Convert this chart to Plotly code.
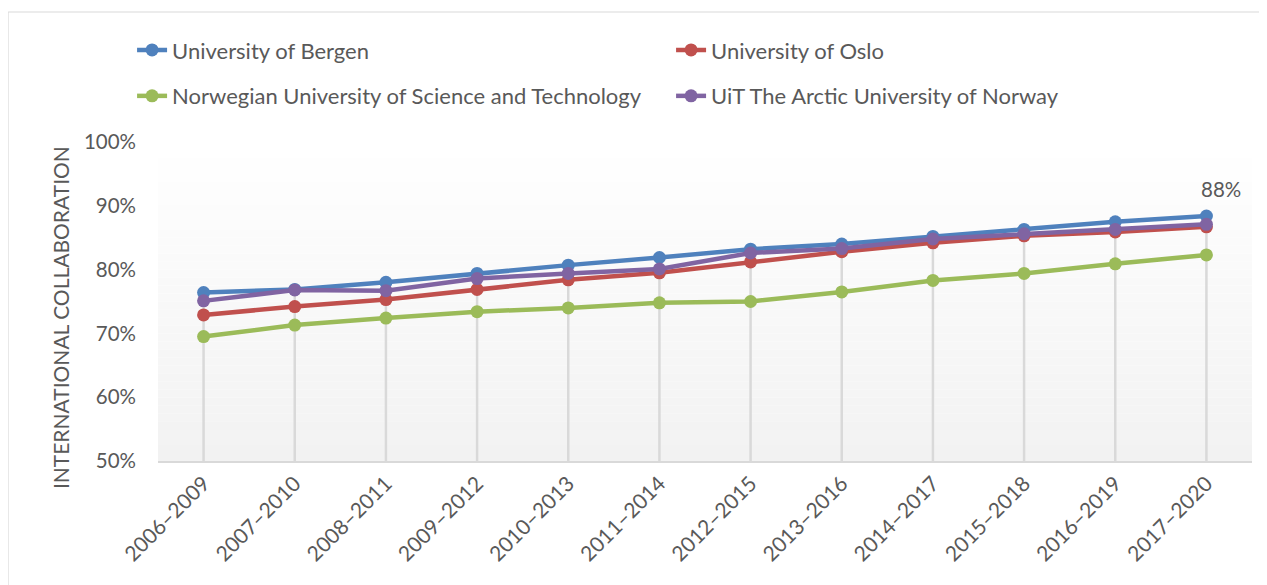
import plotly.graph_objects as go

categories = ["2006–2009", "2007–2010", "2008–2011", "2009–2012", "2010–2013", "2011–2014",
              "2012–2015", "2013–2016", "2014–2017", "2015–2018", "2016–2019", "2017–2020"]
bergen = [76.4, 76.9, 78.0, 79.4, 80.7, 81.9, 83.2, 84.0, 85.2, 86.3, 87.5, 88.4]
oslo = [72.9, 74.2, 75.3, 76.9, 78.4, 79.5, 81.2, 82.8, 84.2, 85.3, 85.9, 86.7]
ntnu = [69.5, 71.3, 72.4, 73.4, 74.0, 74.8, 75.0, 76.5, 78.3, 79.4, 80.9, 82.3]
uit = [75.1, 76.8, 76.7, 78.6, 79.4, 80.1, 82.6, 83.3, 84.8, 85.6, 86.3, 87.1]

series = [
    ("University of Bergen", bergen, "#4f81bd", "legend"),
    ("University of Oslo", oslo, "#c0504d", "legend"),
    ("Norwegian University of Science and Technology", ntnu, "#9bbb59", "legend2"),
    ("UiT The Arctic University of Norway", uit, "#8064a2", "legend2"),
]

FONT = "Lato"
GREY = "#595959"
AXMIN, AXMAX = 50, 100

fig = go.Figure()

# drop lines from the highest point of each category to the axis
dx, dy = [], []
for i, c in enumerate(categories):
    top = max(bergen[i], oslo[i], ntnu[i], uit[i])
    dx += [c, c, None]
    dy += [AXMIN, top, None]
fig.add_trace(go.Scatter(x=dx, y=dy, mode="lines", line=dict(color="#d9d9d9", width=2.5),
                         showlegend=False, hoverinfo="skip"))

for name, vals, color, leg in series:
    fig.add_trace(go.Scatter(x=categories, y=vals, name=name, mode="lines+markers",
                             line=dict(color=color, width=4.5),
                             marker=dict(color=color, size=13),
                             legend=leg))

# plot-area vertical gradient (white at top to light grey at bottom)
n = 40
shapes = []
for k in range(n):
    t = k / (n - 1)
    v = int(round(255 - t * (255 - 242)))
    shapes.append(dict(type="rect", xref="x domain", yref="y domain",
                       x0=0, x1=1, y0=1 - (k + 1) / n, y1=1 - k / n,
                       fillcolor=f"rgb({v},{v},{v})", line=dict(width=0), layer="below"))
# outer chart border
shapes.append(dict(type="rect", xref="paper", yref="paper", x0=-0.137, x1=1.3, y0=-2, y1=1.4075,
                   line=dict(color="#d9d9d9", width=1), fillcolor="rgba(0,0,0,0)", layer="below"))

leg_common = dict(orientation="h", x=-0.0237, xanchor="left", yanchor="middle",
                  entrywidth=494, entrywidthmode="pixels", font=dict(size=22, color=GREY),
                  bgcolor="rgba(0,0,0,0)")

fig.update_layout(
    width=1259, height=577,
    margin=dict(l=150, r=15, t=134, b=124),
    paper_bgcolor="white", plot_bgcolor="rgba(0,0,0,0)",
    font=dict(family=FONT, color=GREY, size=20),
    shapes=shapes,
    legend=dict(leg_common, y=1.288),
    legend2=dict(leg_common, y=1.144),
    xaxis=dict(type="category", range=[-0.5, len(categories) - 0.5], tickangle=-45,
               showgrid=False, showline=True, linecolor="#d9d9d9", linewidth=2,
               ticks="", tickfont=dict(size=21, color=GREY), zeroline=False),
    yaxis=dict(range=[AXMIN, AXMAX], dtick=10, ticksuffix="%", showgrid=False,
               showline=False, zeroline=False, ticks="", ticklabelstandoff=21,
               tickfont=dict(size=20.5, color=GREY)),
    annotations=[
        dict(text="INTERNATIONAL COLLABORATION", textangle=-90, xref="paper", yref="paper",
             x=-0.0896, y=0.451, xanchor="center", yanchor="middle", showarrow=False,
             font=dict(size=21, color=GREY)),
        dict(text=f"{round(bergen[-1])}%", x=categories[-1], y=bergen[-1], xref="x", yref="y",
             showarrow=False, xshift=15, yshift=27, font=dict(size=20.5, color=GREY)),
    ],
)

fig.write_html("out.html")
